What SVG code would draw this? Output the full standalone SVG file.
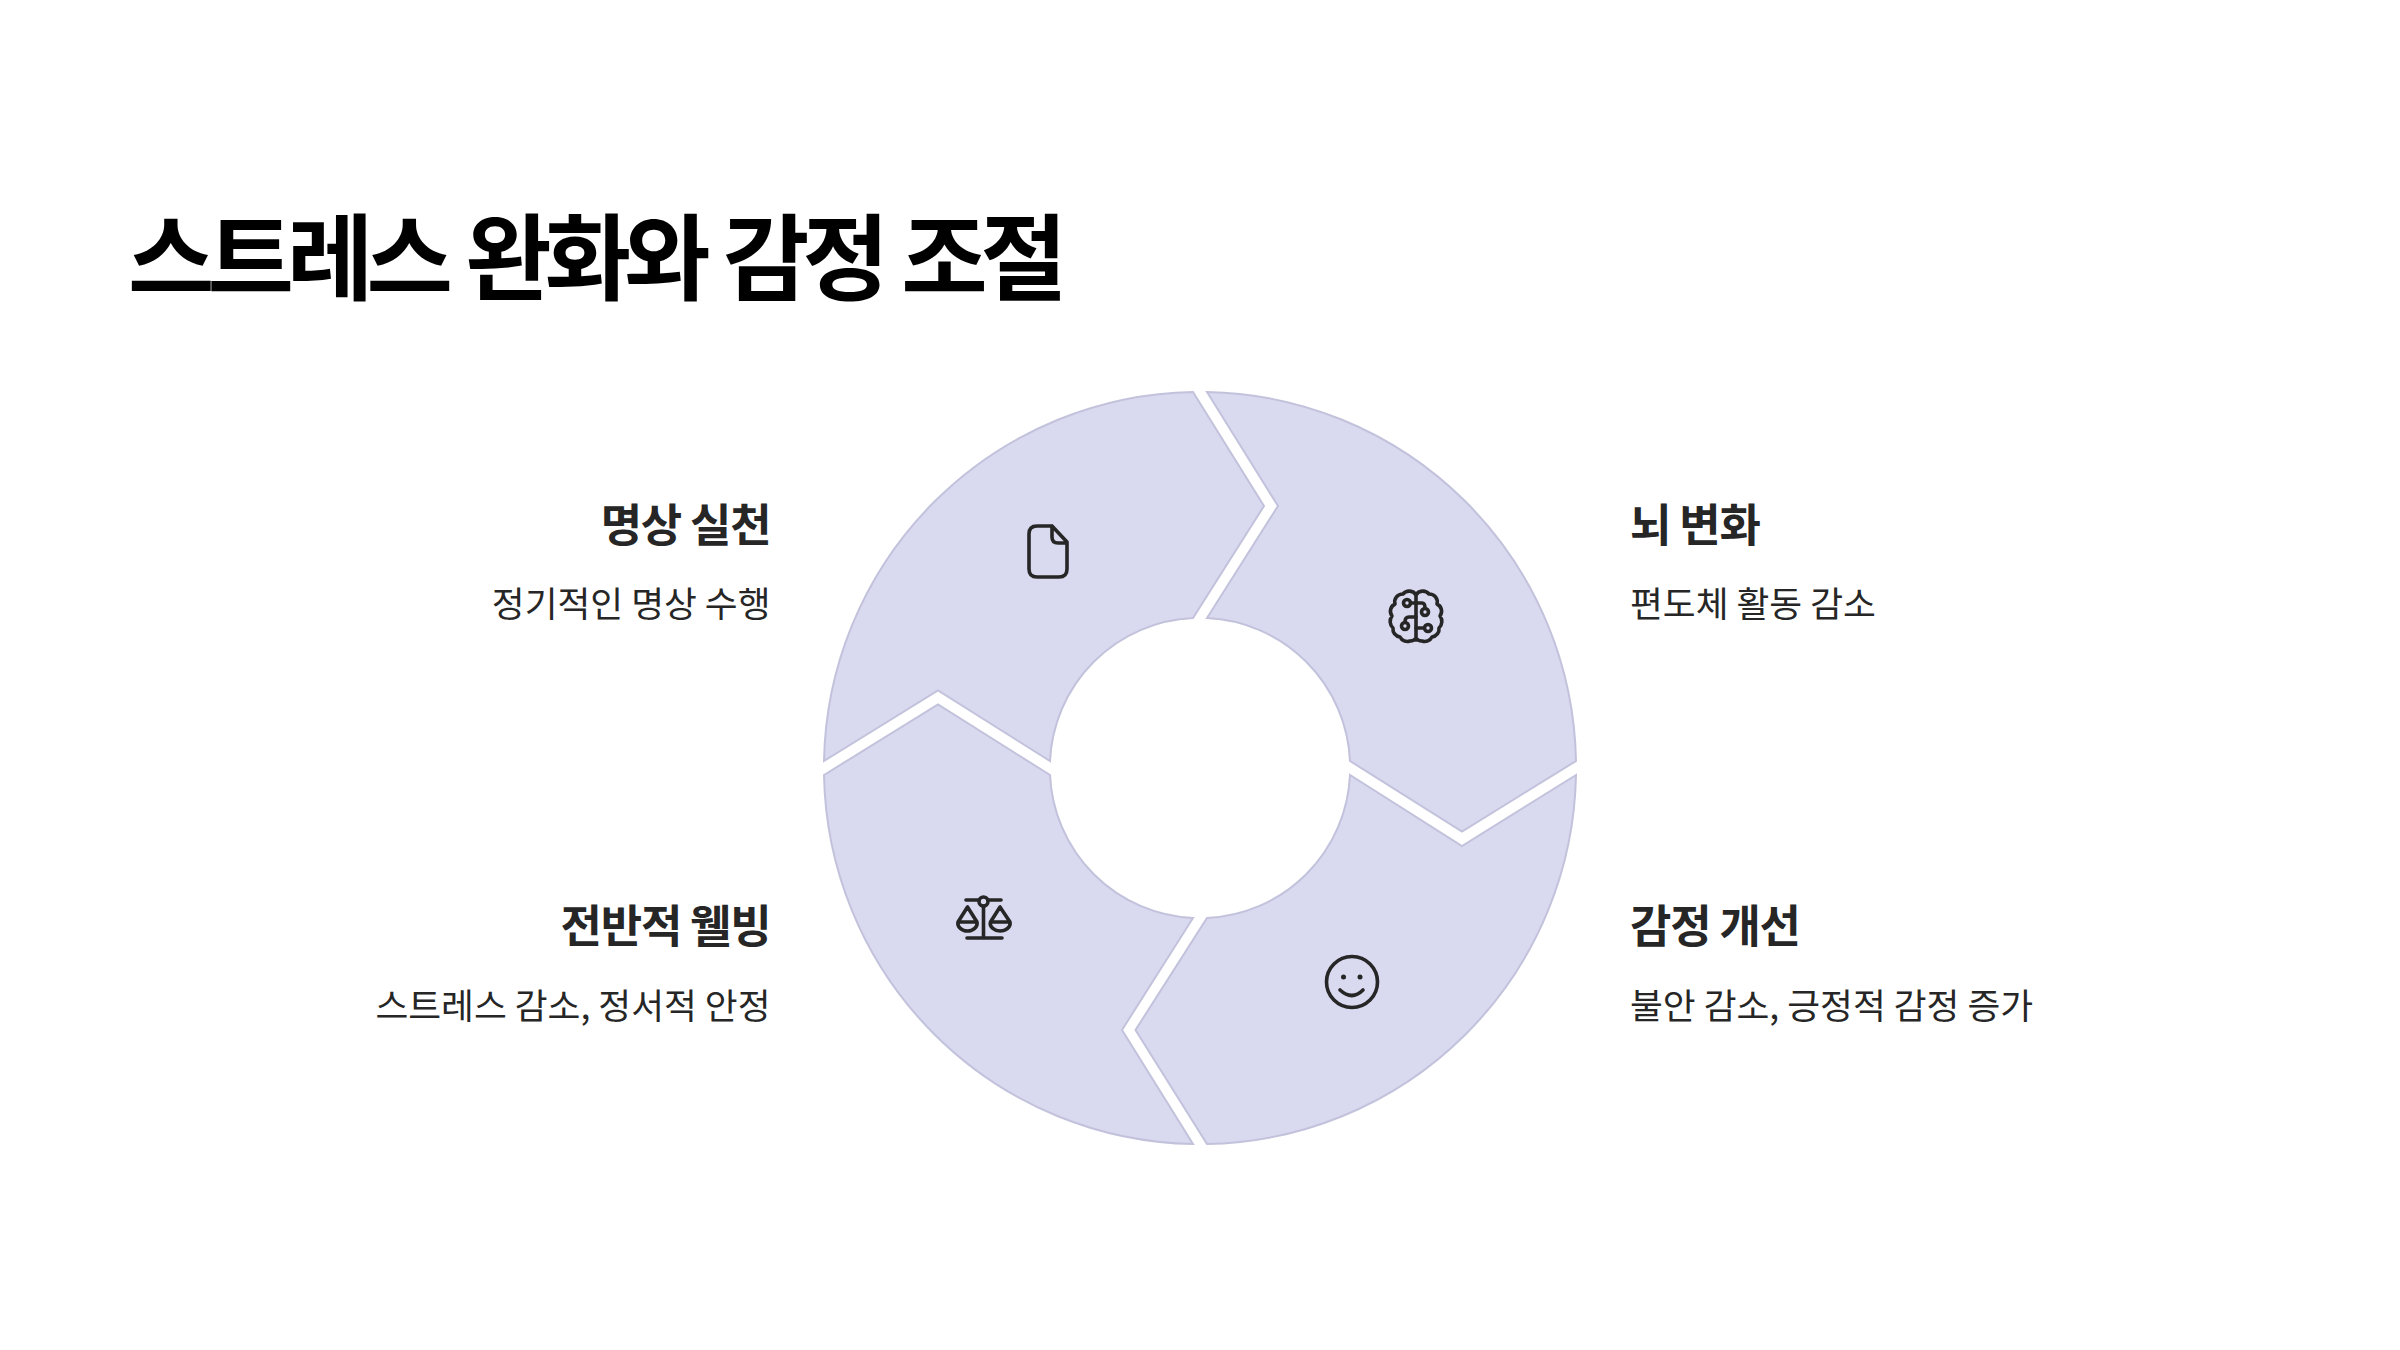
<svg xmlns="http://www.w3.org/2000/svg" width="2400" height="1350" viewBox="0 0 2400 1350">
<style>
text{font-family:"Noto Sans CJK KR","Noto Sans",sans-serif;fill:#262626}
.t{font-size:94px;font-weight:700;fill:#000;letter-spacing:-7px;word-spacing:5px}
.h{font-size:45px;font-weight:700;letter-spacing:-1.2px}
.d{font-size:35.7px;font-weight:400}
.e{text-anchor:end}
.seg{fill:#d9d9ef;stroke:#c2c2dc;stroke-width:2;stroke-linejoin:miter}
.i{fill:none;stroke:#262626;stroke-width:3.6;stroke-linecap:round;stroke-linejoin:round}
.f{fill:#262626;stroke:none}
</style>
<rect width="2400" height="1350" fill="#fff"/>
<text class="t" x="128" y="293">스트레스 완화와 감정 조절</text>
<g id="node-meditation">
<path class="seg" d="M1193 392L1264 506L1193 618A150 150 0 0 0 1050 761L938 690.500L824 761A376 376 0 0 1 1193 392Z"/>
<path class="i" d="M1052 526H1037Q1029 526 1029 534V569Q1029 577 1037 577H1059Q1067 577 1067 569V542L1052 526V537Q1052 543 1058 543H1067"/>
<text class="h e" x="770.500" y="542">명상 실천</text>
<text class="d e" x="770.500" y="616.500">정기적인 명상 수행</text>
</g>
<g id="node-brain">
<path class="seg" d="M1207 392L1278 506L1207 618A150 150 0 0 1 1350 761L1462 831.500L1576 761A376 376 0 0 0 1207 392Z"/>
<path class="i" d="M1416 594V640M1416 595A8 8 0 0 0 1403 594A8 8 0 0 0 1395 604A8 8 0 0 0 1392 616A9 9 0 0 0 1393 628A8 8 0 0 0 1400 637A8 8 0 0 0 1410 641A7 7 0 0 0 1416 638M1416 595A8 8 0 0 1 1429 594A8 8 0 0 1 1437 604A8 8 0 0 1 1440 616A9 9 0 0 1 1439 628A8 8 0 0 1 1432 637A8 8 0 0 1 1422 641A7 7 0 0 1 1416 638"/>
<circle class="i" cx="1407" cy="603" r="3.500"/><circle class="i" cx="1425" cy="612" r="3.500"/><circle class="i" cx="1405" cy="626" r="3.500"/><circle class="i" cx="1428" cy="628" r="3.500"/>
<path class="i" d="M1411 603H1422Q1425 603 1425 608M1416 617H1409Q1405 617 1405 622M1416 628H1424"/>
<text class="h" x="1630" y="542">뇌 변화</text>
<text class="d" x="1630" y="616.500">편도체 활동 감소</text>
</g>
<g id="node-emotion">
<path class="seg" d="M1576 775L1462 846L1350 775A150 150 0 0 1 1207 918L1135.500 1030L1207 1144A376 376 0 0 0 1576 775Z"/>
<circle class="i" cx="1352" cy="982" r="25.500"/>
<circle class="f" cx="1343.500" cy="977" r="2.500"/><circle class="f" cx="1360" cy="977" r="2.500"/>
<path class="i" d="M1340 990Q1352 1001 1363 990"/>
<text class="h" x="1630" y="943">감정 개선</text>
<text class="d" x="1630" y="1018.500">불안 감소, 긍정적 감정 증가</text>
</g>
<g id="node-wellbeing">
<path class="seg" d="M824 775L938 704.500L1050 775A150 150 0 0 0 1193 918L1122 1030L1193 1144A376 376 0 0 1 824 775Z"/>
<circle class="i" cx="983.500" cy="901.500" r="4.500"/>
<path class="i" d="M966 900H979M988 900H1001M983.500 906V938M967 938H1002M967.500 907L958 922C957 927 962 931 967.500 931C973 931 978 927 977 922ZM958 922H977M1000 907L990.500 922C989 927 995 931 1000 931C1006 931 1011 927 1010 922ZM990.500 922H1010"/>
<text class="h e" x="770.500" y="943">전반적 웰빙</text>
<text class="d e" x="770.500" y="1018.500">스트레스 감소, 정서적 안정</text>
</g>
<g id="connectors"></g>
</svg>
